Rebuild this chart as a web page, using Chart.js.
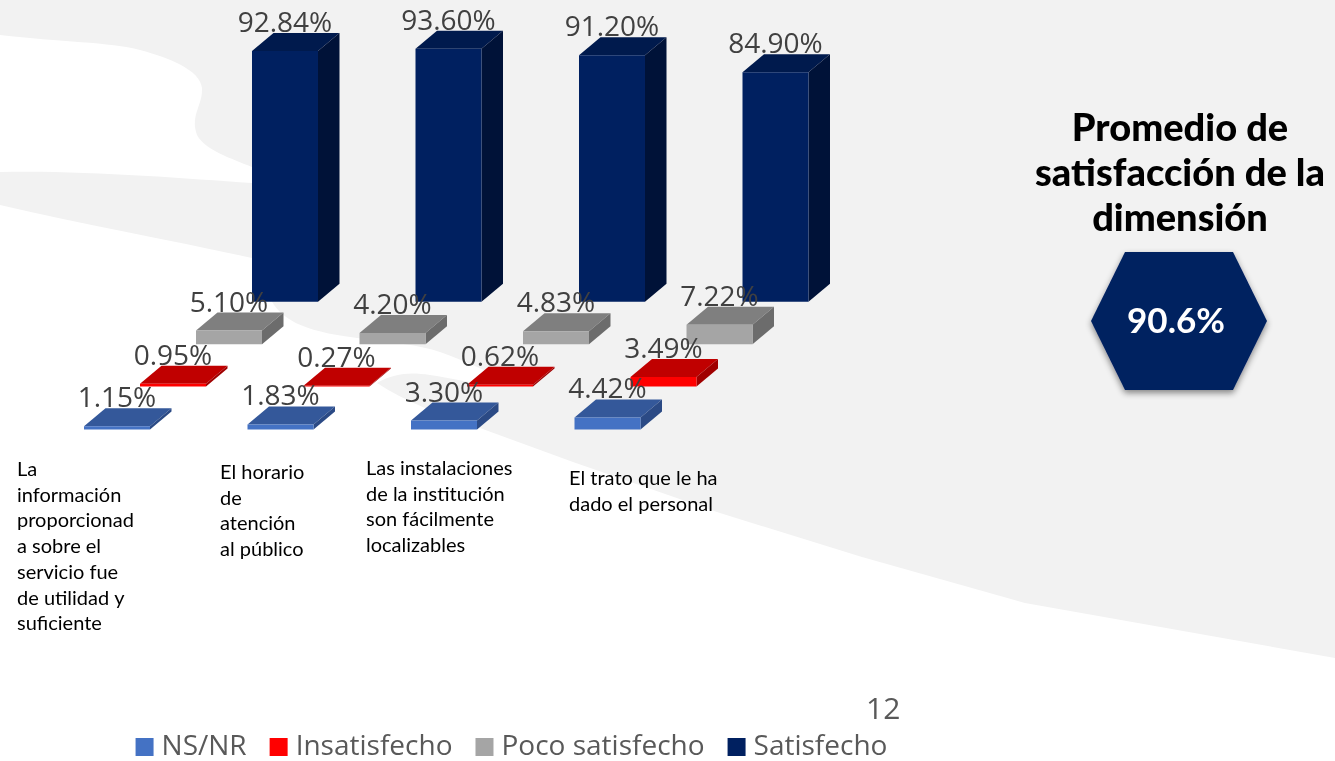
<!DOCTYPE html>
<html lang="es">
<head>
<meta charset="utf-8">
<title>Promedio de satisfacción</title>
<script src="https://cdn.jsdelivr.net/npm/chart.js@4"></script>
<style>
    html, body { margin: 0; padding: 0; width: 1335px; height: 761px; overflow: hidden; background: #f2f2f2; }
    #bg, #hex { position: absolute; left: 0; top: 0; }
    #chart { position: absolute; left: 0; top: 0; }
    #promedio {
        position: absolute; left: 1025px; top: 104px; width: 310px;
        font: 900 38px/45px Lato, sans-serif; color: #000; text-align: center;
    }
    #pagina {
        position: absolute; left: 866px; top: 687px;
        font: 30px/42px "Open Sans", sans-serif; color: #595959;
    }
</style>
</head>
<body>
<!-- white waves behind the chart -->
<svg id="bg" width="1335" height="761">
    <path fill="#fff" d="M0 35 C60 42 110 42 140 50 C170 58 200 70 202 88 C203 105 190 115 197 135 C205 150 230 158 252 167 L252 183 C180 178 80 170 0 172 Z"/>
    <path fill="#fff" d="M0 205 C85 225 175 241 252 258 L270 298 C280 318 300 331 357 338 C390 342 420 345 440 352 C465 361 480 368 505 380 C480 388 455 378 430 375 C410 372 395 373 377 383 C405 402 440 414 480 428 L573 462 L720 513 L862 557 L1025 603 L1335 658 L1335 761 L0 761 Z"/>
</svg>
<canvas id="chart"></canvas>
<div id="promedio">Promedio de<br>satisfacción de la<br>dimensión</div>
<svg id="hex" width="1335" height="761" style="pointer-events:none">
    <defs>
        <filter id="sombra" x="-20%" y="-20%" width="140%" height="140%">
            <feDropShadow dx="0" dy="3" stdDeviation="3" flood-color="#000" flood-opacity="0.45"/>
        </filter>
    </defs>
    <polygon fill="#002060" filter="url(#sombra)" points="1125,252 1233,252 1267,321 1233,390 1125,390 1091,321"/>
    <text x="1176" y="333" fill="#fff" text-anchor="middle" font-family="Lato, sans-serif" font-weight="700" font-size="35">90.6%</text>
</svg>
<div id="pagina">12</div>

<script>
// Chart data
const categories = [
    ['La', 'información', 'proporcionad', 'a sobre el', 'servicio fue', 'de utilidad y', 'suficiente'],
    ['El horario', 'de', 'atención', 'al público'],
    ['Las instalaciones', 'de la institución', 'son fácilmente', 'localizables'],
    ['El trato que le ha', 'dado el personal']
];
const nsnr = [1.15, 1.83, 3.30, 4.42];
const insatisfecho = [0.95, 0.27, 0.62, 3.49];
const pocoSatisfecho = [5.10, 4.20, 4.83, 7.22];
const satisfecho = [92.84, 93.60, 91.20, 84.90];

// Where the wrapped category labels start
const labelLeft = [17, 220, 366, 569];
const labelTop = [476, 479, 475, 485];

// Fake depth of the columns
const DEPTH_X = 21.5;
const DEPTH_Y = 18;

// Each series sits on its own floor, one step further back
const PX_PER_UNIT = 2.7;
const AREA_BOTTOM = 703.3;
function floorAxis(baseY, extra) {
    return Object.assign({
        display: false,
        min: (baseY - AREA_BOTTOM) / PX_PER_UNIT,
        max: baseY / PX_PER_UNIT,
        grid: { display: false },
        border: { display: false },
        ticks: { display: false }
    }, extra);
}

// Empty axis that only reserves room beside the plot
function gutter(position, size) {
    return {
        display: true,
        position: position,
        afterFit(scale) { scale.width = size; }
    };
}

function faceData(name, data, axis, front, top, side) {
    return {
        label: name,
        data: data,
        yAxisID: axis,
        backgroundColor: front,
        topColor: top,
        sideColor: side,
        clip: false
    };
}

// Top and side faces, painted just before each dataset's front faces
const depthFaces = {
    id: 'depthFaces',
    beforeDatasetDraw(chart, args) {
        const ctx = chart.ctx;
        const ds = chart.data.datasets[args.index];
        args.meta.data.forEach(bar => {
            const left = bar.x - bar.width / 2;
            const right = bar.x + bar.width / 2;
            ctx.fillStyle = ds.topColor;
            ctx.beginPath();
            ctx.moveTo(left, bar.y);
            ctx.lineTo(left + DEPTH_X, bar.y - DEPTH_Y);
            ctx.lineTo(right + DEPTH_X, bar.y - DEPTH_Y);
            ctx.lineTo(right, bar.y);
            ctx.closePath();
            ctx.fill();
            ctx.fillStyle = ds.sideColor;
            ctx.beginPath();
            ctx.moveTo(right, bar.y);
            ctx.lineTo(right + DEPTH_X, bar.y - DEPTH_Y);
            ctx.lineTo(right + DEPTH_X, bar.base - DEPTH_Y);
            ctx.lineTo(right, bar.base);
            ctx.closePath();
            ctx.fill();
        });
    }
};

// Percentage labels and the left aligned category labels
const chartTexts = {
    id: 'chartTexts',
    afterDraw(chart) {
        const ctx = chart.ctx;
        ctx.save();
        ctx.font = '28px "Open Sans", sans-serif';
        ctx.fillStyle = '#404040';
        ctx.textAlign = 'center';
        ctx.textBaseline = 'alphabetic';
        for (let d = chart.data.datasets.length - 1; d >= 0; d--) {
            const ds = chart.data.datasets[d];
            chart.getDatasetMeta(d).data.forEach((bar, i) => {
                ctx.fillText(ds.data[i].toFixed(2) + '%', bar.x, bar.y - DEPTH_Y - 1);
            });
        }
        ctx.font = '20px Lato, sans-serif';
        ctx.fillStyle = '#000';
        ctx.textAlign = 'left';
        chart.data.labels.forEach((lines, i) => {
            lines.forEach((line, n) => {
                ctx.fillText(line, labelLeft[i], labelTop[i] + n * 25.7);
            });
        });
        ctx.restore();
    }
};

const canvas = document.getElementById('chart');
canvas.width = 1029;
canvas.height = 771;

new Chart(canvas, {
    type: 'bar',
    data: {
        labels: categories,
        datasets: [
            faceData('NS/NR', nsnr, 'yNs', '#4472c4', '#34589a', '#2b4a85'),
            faceData('Insatisfecho', insatisfecho, 'yIn', '#ff0000', '#c00000', '#a00000'),
            faceData('Poco satisfecho', pocoSatisfecho, 'yPoco', '#a5a5a5', '#7f7f7f', '#6c6c6c'),
            faceData('Satisfecho', satisfecho, 'ySat', '#002060', '#001a4d', '#001238')
        ]
    },
    options: {
        responsive: false,
        animation: false,
        devicePixelRatio: 1,
        categoryPercentage: 1.37,
        barPercentage: 1.1786,
        scales: {
            x: { display: false, grid: { display: false } },
            yNs: floorAxis(429, gutter('right', 255.75)),
            yIn: floorAxis(386),
            yPoco: floorAxis(344),
            ySat: floorAxis(301.5, gutter('left', 119.25))
        },
        plugins: {
            tooltip: { enabled: false },
            title: { display: false },
            legend: {
                position: 'bottom',
                labels: {
                    color: '#595959',
                    font: { family: '"Open Sans", sans-serif', size: 28 },
                    boxWidth: 6,
                    boxHeight: 6,
                    padding: 29,
                    // a thick outline in the same colour widens the swatch without widening the gap to the text
                    generateLabels(chart) {
                        return chart.data.datasets.map((ds, i) => ({
                            text: ds.label,
                            fillStyle: ds.backgroundColor,
                            strokeStyle: ds.backgroundColor,
                            lineWidth: 12,
                            fontColor: '#595959',
                            datasetIndex: i
                        }));
                    }
                }
            }
        }
    },
    plugins: [depthFaces, chartTexts]
});
</script>
</body>
</html>
